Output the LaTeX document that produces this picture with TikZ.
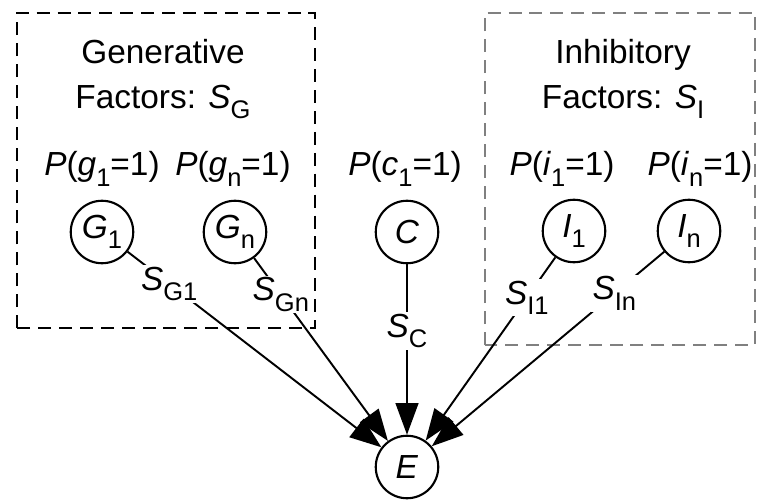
\documentclass[tikz,border=0pt]{standalone}
\usepackage{fontspec}
\setmainfont{Liberation Sans}
\usetikzlibrary{arrows.meta}
\newcommand{\isub}[2]{\textit{#1}\raisebox{-6pt}{\fontsize{14.5}{14.5}\selectfont #2}}
\tikzset{
  factor/.style={circle, draw, line width=1.2pt, minimum size=1.25cm, inner sep=0pt},
  weight/.style={fill=white, inner sep=1pt},
  groupbox/.style={dash pattern=on 7.4pt off 4.5pt, line width=1.5pt}
}

\begin{document}
\begin{tikzpicture}[>={Triangle[length=18pt,width=13pt]},
    font=\fontsize{19}{25.5}\selectfont]
\useasboundingbox (0,0) rectangle (15.16,10.04);
% factor groups
\draw[groupbox] (0.34,3.48) rectangle (6.30,9.78);
\draw[groupbox, gray] (9.70,3.14) rectangle (15.10,9.78);
\node[align=center] (gen) at (3.26,8.46) {Generative\\Factors: \isub{S}{G}};
\node[align=center] (inh) at (12.46,8.46) {Inhibitory\\Factors: \isub{S}{I}};
% causes and effect
\node[factor] (G1) at (2.04,5.40) {\isub{G}{1}};
\node[factor] (Gn) at (4.70,5.40) {\isub{G}{n}};
\node[factor] (C)  at (8.14,5.40) {\textit{C}};
\node[factor] (I1) at (11.48,5.42) {\isub{I}{1}};
\node[factor] (In) at (13.78,5.42) {\isub{I}{n}};
\node[factor] (E)  at (8.14,0.70) {\textit{E}};
\node (pG1) at (2.04,6.66)  {\textit{P}(\isub{g}{1}=1)};
\node (pGn) at (4.66,6.66)  {\textit{P}(\isub{g}{n}=1)};
\node (pC)  at (8.10,6.66)  {\textit{P}(\isub{c}{1}=1)};
\node (pI1) at (11.24,6.66) {\textit{P}(\isub{i}{1}=1)};
\node (pIn) at (14.00,6.66) {\textit{P}(\isub{i}{n}=1)};
% strengths
\draw[->, line width=1.1pt] (G1) -- node[weight, pos=0.164] {\isub{S}{G1}} (E);
\draw[->, line width=1.1pt] (Gn) -- node[weight, pos=0.20]  {\isub{S}{Gn}} (E);
\draw[->, line width=1.1pt] (C)  -- node[weight, pos=0.39]  {\isub{S}{C}} (E);
\draw[->, line width=1.1pt] (I1) -- node[weight, pos=0.22]  {\isub{S}{I1}} (E);
\draw[->, line width=1.1pt] (In) -- node[weight, pos=0.215] {\isub{S}{In}} (E);
\end{tikzpicture}
\end{document}
